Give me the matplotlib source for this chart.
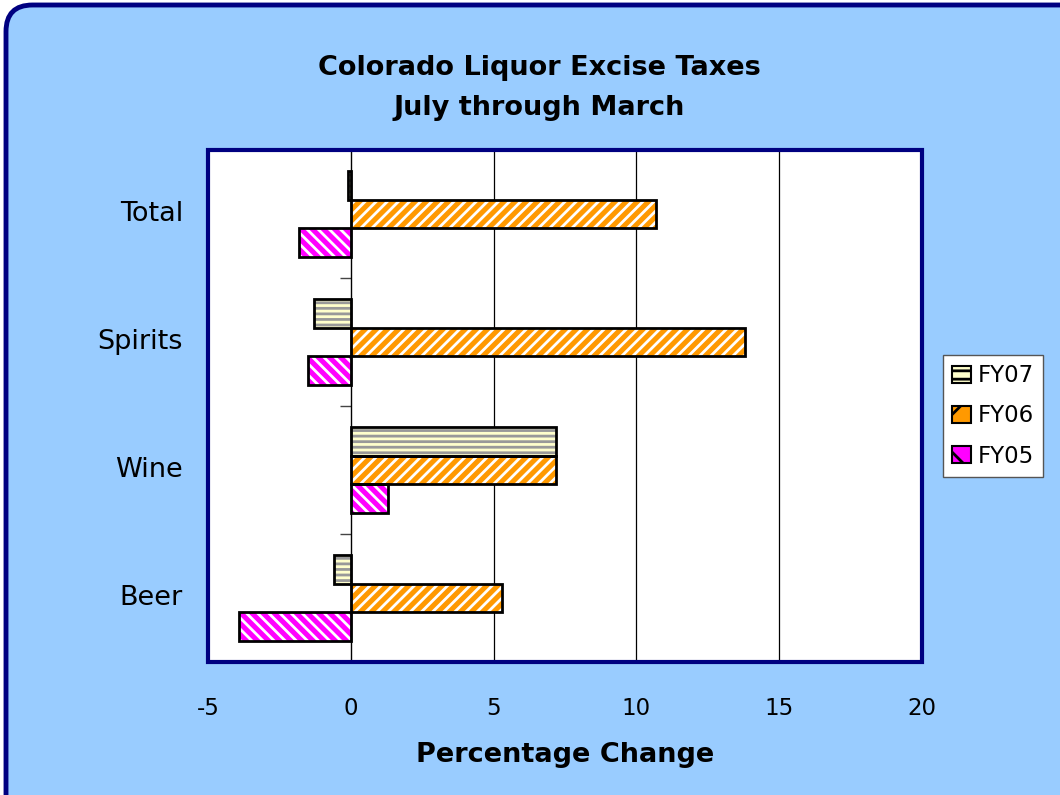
import numpy as np
import matplotlib
matplotlib.use('Agg')
import matplotlib.pyplot as plt
from matplotlib.patches import FancyBboxPatch, Rectangle

# Data
categories = ['Beer', 'Wine', 'Spirits', 'Total']
series_names = ['FY07', 'FY06', 'FY05']
fy07 = [-0.6, 7.2, -1.3, -0.1]
fy06 = [5.3, 7.2, 13.8, 10.7]
fy05 = [-3.9, 1.3, -1.5, -1.8]
x_ticks = [-5, 0, 5, 10, 15, 20]

navy = '#000080'
bg_blue = '#99CCFF'

W, H = 1060.0, 795.0

plt.rcParams['hatch.linewidth'] = 2.0

fig = plt.figure(figsize=(W / 100, H / 100), dpi=100)
fig.patch.set_facecolor('white')

# rounded outer frame, running off the right and bottom edges
frame = FancyBboxPatch((6 / W, -30 / H), (1090 - 6) / W, (790 + 30) / H,
                       boxstyle='round,pad=0,rounding_size=0.025',
                       transform=fig.transFigure, facecolor=bg_blue,
                       edgecolor=navy, linewidth=3.5, zorder=-10,
                       mutation_aspect=W / H)
fig.patches.append(frame)

ax = fig.add_axes([208 / W, 1 - 662 / H, (922 - 208) / W, (662 - 150) / H])
ax.set_zorder(1)
ax.set_facecolor('white')
ax.set_xlim(-5, 20)
ax.set_ylim(-0.5, 3.5)

# vertical gridlines
for g in [5, 10, 15]:
    ax.axvline(g, color='black', linewidth=0.9, zorder=1)

y = np.arange(len(categories))
h = 0.225
offsets = [h, 0, -h]
# values, fill, bar hatch, legend hatch, hatch colour
styles = [
    (fy07, '#FFFFCC', '---', '--', '#999999'),
    (fy06, '#FF9900', '///', '/', 'white'),
    (fy05, '#FF00FF', '\\\\\\', '\\', 'white'),
]
handles = []
for (vals, face, hatch, lhatch, hcol), off in zip(styles, offsets):
    ax.barh(y + off, vals, height=h, color=face, linewidth=0, zorder=2)
    ax.barh(y + off, vals, height=h, color='none', edgecolor=hcol,
            hatch=hatch, linewidth=0, zorder=3)
    ax.barh(y + off, vals, height=h, color='none', edgecolor='black',
            linewidth=2, zorder=4)
    handles.append(Rectangle((0, 0), 1, 1, facecolor=face, edgecolor=hcol,
                             hatch=lhatch, linewidth=0))

# category axis sits at x = 0
for s in ['top', 'right', 'bottom']:
    ax.spines[s].set_visible(False)
ax.spines['left'].set_position(('data', 0))
ax.spines['left'].set_linewidth(1.0)
ax.spines['left'].set_zorder(5)
ax.set_yticks([0.5, 1.5, 2.5])
ax.set_yticklabels([])
ax.tick_params(axis='y', length=8, width=1, color='#444444',
               direction='out')
for yi, cat in zip(y, categories):
    ax.text(-0.035, yi, cat, transform=ax.get_yaxis_transform(),
            ha='right', va='center', fontsize=19.5)

ax.set_xticks(x_ticks)
ax.set_xticklabels([str(t) for t in x_ticks], fontsize=16.5)
ax.tick_params(axis='x', length=0, pad=25)
fig.text(565 / W, 1 - 755 / H, 'Percentage Change', ha='center',
         va='center', fontsize=19.5, fontweight='bold')

# navy plot border
ax.add_patch(Rectangle((0, 0), 1, 1, transform=ax.transAxes, fill=False,
                       edgecolor=navy, linewidth=3, zorder=10,
                       clip_on=False))

fig.text(539 / W, 1 - 68 / H, 'Colorado Liquor Excise Taxes',
         ha='center', va='center', fontsize=19.5, fontweight='bold')
fig.text(539 / W, 1 - 108 / H, 'July through March',
         ha='center', va='center', fontsize=19.5, fontweight='bold')

leg = fig.legend(handles, series_names, loc='center',
                 bbox_to_anchor=(993 / W, 1 - 416 / H), fontsize=16.5,
                 frameon=True, fancybox=False, handlelength=0.8,
                 handleheight=0.8, handletextpad=0.3, borderpad=0.4,
                 labelspacing=0.75)
leg.get_frame().set_edgecolor('#555555')
leg.get_frame().set_linewidth(1)
leg.get_frame().set_alpha(1)
for p in leg.get_patches():
    p.set_edgecolor('black')
    p.set_linewidth(1.5)

fig.savefig('out.png', dpi=100)
